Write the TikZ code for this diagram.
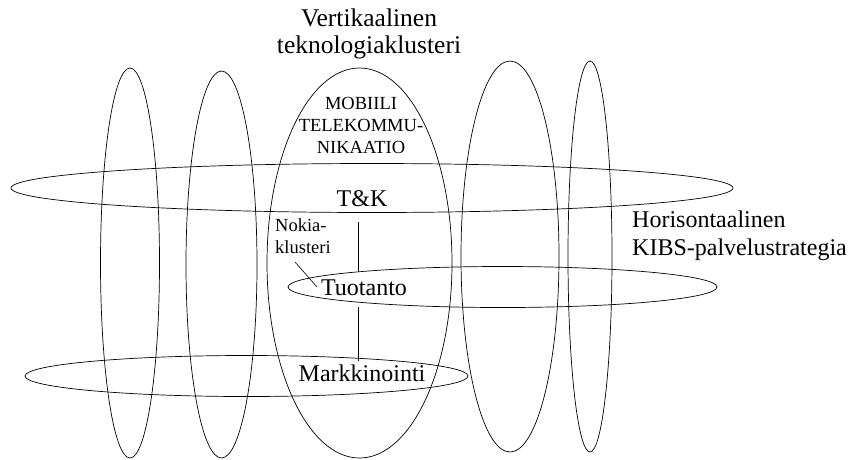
\documentclass[tikz,border=0pt]{standalone}
\usepackage{fontspec}
\setmainfont{Liberation Serif}
\usetikzlibrary{shapes.geometric, positioning, calc}

\begin{document}
\begin{tikzpicture}[
    x=1pt, y=-1pt,
    ring/.style={draw, ellipse, inner sep=0pt, line width=0.7pt},
    big/.style={font=\fontsize{24}{28}\selectfont, inner sep=0pt},
    small/.style={font=\fontsize{18.5}{22}\selectfont, inner sep=0pt},
    link/.style={line width=0.6pt}
]
\useasboundingbox (0,0) rectangle (851,459);

% Vertical clusters
\node[ring, minimum width=59pt, minimum height=390pt] (v1) at (130,263) {};
\node[ring, minimum width=71pt, minimum height=387pt] (v2) at (221.5,264.5) {};
\node[ring, minimum width=185pt, minimum height=390pt] (mobile) at (359.5,263) {};
\node[ring, minimum width=98pt, minimum height=391pt] (v4) at (510,256.5) {};
\node[ring, minimum width=44pt, minimum height=391pt] (v5) at (590,256.5) {};

% Horizontal strategies
\node[ring, minimum width=722pt, minimum height=49pt] (h1) at (372,188) {};
\node[ring, minimum width=429pt, minimum height=41pt] (h2) at (502.5,287) {};
\node[ring, minimum width=443pt, minimum height=41pt] (h3) at (246.5,376) {};

% Labels (base = last line)
\node[big, font=\fontsize{25.5}{26.5}\selectfont, anchor=base, align=center] (vert) at (369,53) {Vertikaalinen\\teknologiaklusteri};
\node[small, anchor=base, align=center] (mobtext) at (361,153) {MOBIILI\\TELEKOMMU-\\NIKAATIO};
\node[big, anchor=base] (tk) at (362,206) {T\&K};
\node[small, anchor=base west, align=left] (nokia) at (275,253) {Nokia-\\klusteri};
\node[big, anchor=base] (tuo) at (364,295) {Tuotanto};
\node[big, anchor=base] (mark) at (362,381) {Markkinointi};
\node[big, anchor=base west, align=left] (horis) at (632,255) {Horisontaalinen\\KIBS-palvelustrategia};

% Links
\draw[link] ($(tk.base)+(-4,16)$) -- ($(tuo.base)+(-6,-23)$);
\draw[link] ($(tuo.base)+(-6,12)$) -- ($(mark.base)+(-4,-20)$);
\draw[link] ($(nokia.base west)+(20,9)$) -- ($(tuo.base)+(-47,-8)$);

\end{tikzpicture}
\end{document}
